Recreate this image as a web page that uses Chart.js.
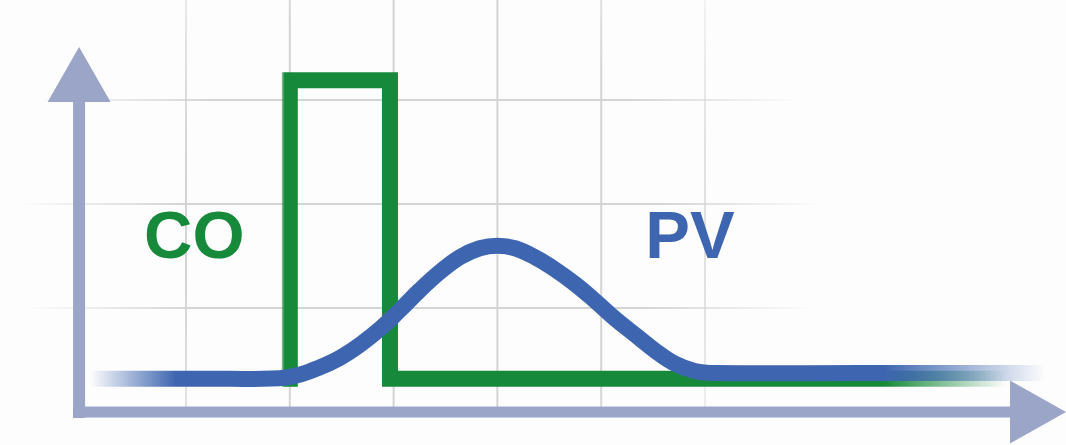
<!DOCTYPE html>
<html>
<head>
<meta charset="utf-8">
<script src="https://cdn.jsdelivr.net/npm/chart.js@4/dist/chart.umd.min.js"></script>
<style>
  html, body { margin: 0; padding: 0; background: #fdfdfd; }
  #wrap { width: 1066px; height: 445px; position: relative; }
</style>
</head>
<body>
<div id="wrap"><canvas id="grafico"></canvas></div>
<script>
// Datos (unidades = una celda de la rejilla)
const coX = [2.0, 2.0, 2.965, 2.965, 8.84];
const coY = [0.32, 3.19, 3.19, 0.32, 0.32];

const pvX = [0.08, 1.20, 1.90, 2.10, 2.29, 2.48, 2.68, 2.87, 3.06, 3.25, 3.45, 3.64, 3.83, 4.00,
             4.17, 4.36, 4.55, 4.75, 4.94, 5.13, 5.33, 5.52, 5.71, 5.90, 6.10, 7.5, 9.28];
const pvY = [0.32, 0.32, 0.325, 0.36, 0.43, 0.52, 0.65, 0.80, 0.98, 1.17, 1.35, 1.49, 1.575, 1.60,
             1.575, 1.49, 1.375, 1.23, 1.07, 0.90, 0.74, 0.59, 0.465, 0.395, 0.375, 0.375, 0.375];

const gridX = [1, 2, 3, 4, 5, 6];
const gridY = [1, 2, 3];
const etiquetas = ['CO', 'PV'];

const VERDE = '#16893a';
const AZUL = '#3e66b0';
const EJE = '#9ba5c8';

function puntos(xs, ys) {
    return xs.map((x, i) => ({ x: x, y: ys[i] }));
}

// degradado horizontal que se desvanece en los extremos
function fade(chart, rgb, x0, x1, x2, x3) {
    const xs = chart.scales.x;
    const a = xs.getPixelForValue(x0), d = xs.getPixelForValue(x3);
    const g = chart.ctx.createLinearGradient(a, 0, d, 0);
    const f = v => Math.min(1, Math.max(0, (xs.getPixelForValue(v) - a) / (d - a)));
    g.addColorStop(0, 'rgba(' + rgb + ',0)');
    g.addColorStop(f(x1), 'rgba(' + rgb + ',1)');
    g.addColorStop(f(x2), 'rgba(' + rgb + ',1)');
    g.addColorStop(1, 'rgba(' + rgb + ',0)');
    return g;
}

const rejilla = {
    id: 'rejilla',
    beforeDatasetsDraw(chart) {
        const ctx = chart.ctx, xs = chart.scales.x, ys = chart.scales.y;
        const g = ctx.createRadialGradient(420, 225, 0, 420, 225, 400);
        g.addColorStop(0, 'rgba(212,212,212,1)');
        g.addColorStop(0.6, 'rgba(212,212,212,1)');
        g.addColorStop(1, 'rgba(212,212,212,0)');
        ctx.save();
        ctx.strokeStyle = g;
        ctx.lineWidth = 2;
        gridX.forEach(v => {
            const px = xs.getPixelForValue(v);
            ctx.beginPath();
            ctx.moveTo(px, 0);
            ctx.lineTo(px, ys.getPixelForValue(0));
            ctx.stroke();
        });
        gridY.forEach(v => {
            const py = ys.getPixelForValue(v);
            ctx.beginPath();
            ctx.moveTo(0, py);
            ctx.lineTo(chart.width, py);
            ctx.stroke();
        });
        ctx.restore();
    },
    afterDatasetsDraw(chart) {
        const ctx = chart.ctx, xs = chart.scales.x, ys = chart.scales.y;
        const ax = xs.getPixelForValue(-0.03);
        const ay = ys.getPixelForValue(0);
        ctx.save();
        ctx.fillStyle = EJE;
        // eje vertical
        ctx.fillRect(ax - 6, 102, 12, ay + 6 - 102);
        ctx.beginPath();
        ctx.moveTo(ax, 47);
        ctx.lineTo(ax + 31.5, 102);
        ctx.lineTo(ax - 31.5, 102);
        ctx.closePath();
        ctx.fill();
        // eje horizontal
        ctx.fillRect(ax - 6, ay - 5.5, 1010 - (ax - 6), 11);
        ctx.beginPath();
        ctx.moveTo(1066, ay);
        ctx.lineTo(1010, ay - 31.5);
        ctx.lineTo(1010, ay + 31.5);
        ctx.closePath();
        ctx.fill();

        // etiquetas
        ctx.font = 'bold 67px "Liberation Sans", Arial, sans-serif';
        ctx.textAlign = 'center';
        ctx.textBaseline = 'alphabetic';
        ctx.fillStyle = VERDE;
        ctx.fillText(etiquetas[0], xs.getPixelForValue(1.08), ys.getPixelForValue(1.48));
        ctx.fillStyle = AZUL;
        ctx.fillText(etiquetas[1], xs.getPixelForValue(5.855), ys.getPixelForValue(1.48));
        ctx.restore();
    }
};

new Chart(document.getElementById('grafico'), {
    type: 'line',
    data: {
        datasets: [{
            label: 'PV',
            data: puntos(pvX, pvY),
            order: 0,
            borderWidth: 16,
            borderCapStyle: 'butt',
            tension: 0.4,
            pointRadius: 0,
            borderColor: ctx => ctx.chart.chartArea ? fade(ctx.chart, '62,102,176', 0.08, 0.9, 7.73, 9.28) : AZUL
        }, {
            label: 'CO',
            data: puntos(coX, coY),
            order: 1,
            borderWidth: 16,
            borderCapStyle: 'square',
            borderJoinStyle: 'miter',
            tension: 0,
            pointRadius: 0,
            borderColor: ctx => ctx.chart.chartArea ? fade(ctx.chart, '22,137,58', 1.9, 1.95, 7.73, 8.9) : VERDE
        }]
    },
    options: {
        responsive: true,
        maintainAspectRatio: false,
        animation: false,
        devicePixelRatio: 1,
        layout: { padding: 0 },
        plugins: { legend: { display: false }, tooltip: { enabled: false } },
        scales: {
            x: { type: 'linear', min: -0.792, max: 9.478, display: false },
            y: { type: 'linear', min: -0.317, max: 3.962, display: false }
        }
    },
    plugins: [rejilla]
});
</script>
</body>
</html>
